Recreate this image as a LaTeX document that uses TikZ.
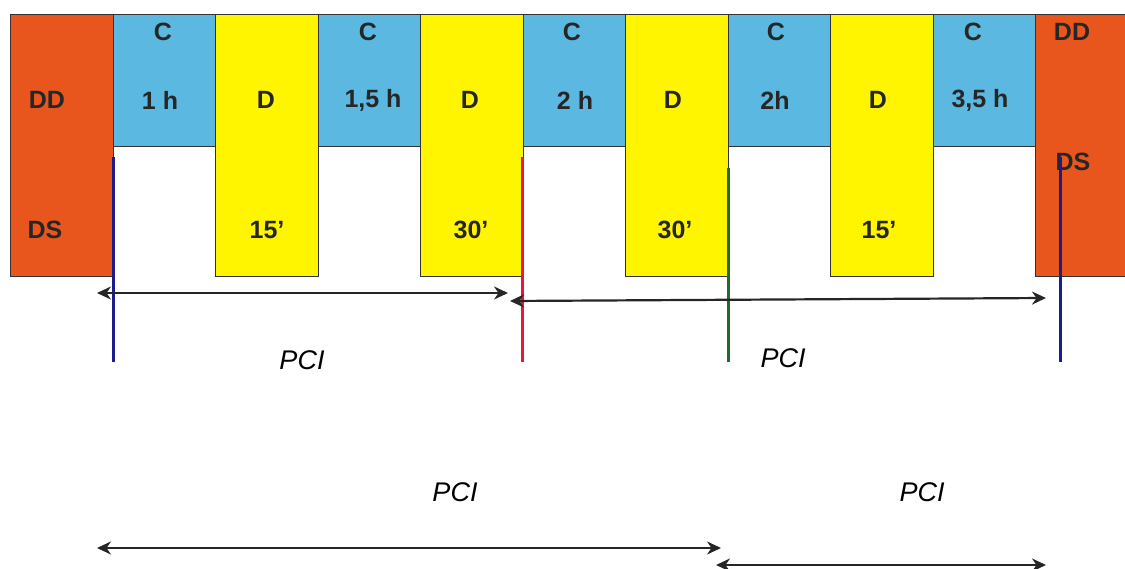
\documentclass[tikz,border=0pt]{standalone}
\usepackage{fontspec}
\setmainfont{Liberation Sans}
\usetikzlibrary{arrows.meta}
\definecolor{org}{HTML}{E8561E}
\definecolor{cyanb}{HTML}{5BB8E0}
\definecolor{yel}{HTML}{FFF500}
\definecolor{navyl}{HTML}{1C1C8A}
\definecolor{redl}{HTML}{E8173A}
\definecolor{greenl}{HTML}{1E6B2A}
\tikzset{
  boxbase/.style={draw=black!80, line width=1pt, anchor=north west, inner sep=0pt, minimum width=102.5pt},
  obox/.style={boxbase, fill=org, minimum height=262pt},
  cbox/.style={boxbase, fill=cyanb, minimum height=132pt},
  ybox/.style={boxbase, fill=yel, minimum height=262pt},
  lbl/.style={font=\fontsize{25}{28}\selectfont\bfseries, text=black!85, inner sep=0pt},
  pci/.style={font=\fontsize{27}{30}\selectfont\itshape, inner sep=0pt},
  marker/.style={line width=3pt},
  span/.style={line width=2.2pt, black!85, {Stealth[length=14pt,width=13pt]}-{Stealth[length=14pt,width=13pt]}}
}
\begin{document}
\begin{tikzpicture}[x=1pt,y=-1pt]
\useasboundingbox (0,0) rectangle (1125,569);
\begin{scope}
\clip (0,0) rectangle (1125,569);
\node[obox] (o1) at (10,14) {};
\node[cbox] (c1) at (112.5,14) {};
\node[ybox] (y1) at (215,14) {};
\node[cbox] (c2) at (317.5,14) {};
\node[ybox] (y2) at (420,14) {};
\node[cbox] (c3) at (522.5,14) {};
\node[ybox] (y3) at (625,14) {};
\node[cbox] (c4) at (727.5,14) {};
\node[ybox] (y4) at (830,14) {};
\node[cbox] (c5) at (932.5,14) {};
\node[obox, minimum width=110pt] (o2) at (1035,14) {};
\end{scope}
% labels
\node[lbl] (dd1) at (47,100) {DD};
\node[lbl] (ds1) at (45,230) {DS};
\node[lbl] (lc1) at (163,32) {C};
\node[lbl] (lt1) at (160,100) {1 h};
\node[lbl] (ld1) at (266,100) {D};
\node[lbl] (lm1) at (267,230) {15’};
\node[lbl] (lc2) at (368,32) {C};
\node[lbl] (lt2) at (373,100) {1,5 h};
\node[lbl] (ld2) at (470,100) {D};
\node[lbl] (lm2) at (471,230) {30’};
\node[lbl] (lc3) at (572,32) {C};
\node[lbl] (lt3) at (575,100) {2 h};
\node[lbl] (ld3) at (673,100) {D};
\node[lbl] (lm3) at (675,230) {30’};
\node[lbl] (lc4) at (776,32) {C};
\node[lbl] (lt4) at (775,100) {2h};
\node[lbl] (ld4) at (878,100) {D};
\node[lbl] (lm4) at (879,230) {15’};
\node[lbl] (lc5) at (973,32) {C};
\node[lbl] (lt5) at (980,100) {3,5 h};
\node[lbl] (dd2) at (1072,32) {DD};
\node[lbl] (ds2) at (1073,162) {DS};
% vertical markers
\coordinate (m1a) at (113,157); \coordinate (m1b) at (113,362);
\coordinate (m2a) at (522,157); \coordinate (m2b) at (522,362);
\coordinate (m3a) at (728,168); \coordinate (m3b) at (728,362);
\coordinate (m4a) at (1060,157); \coordinate (m4b) at (1060,362);
\draw[marker, navyl] (m1a) -- (m1b);
\draw[marker, redl] (m2a) -- (m2b);
\draw[marker, greenl] (m3a) -- (m3b);
\draw[marker, navyl] (m4a) -- (m4b);
% spans
\coordinate (a1l) at (97,293); \coordinate (a1r) at (508,293);
\coordinate (a2l) at (510,301); \coordinate (a2r) at (1046,298);
\coordinate (b1l) at (97,548); \coordinate (b1r) at (721,548);
\coordinate (b2l) at (716,565); \coordinate (b2r) at (1046,565);
\draw[span] (a1l) -- (a1r);
\draw[span] (a2l) -- (a2r);
\draw[span] (b1l) -- (b1r);
\draw[span] (b2l) -- (b2r);
% PCI labels
\node[pci] (p1) at (302,360) {PCI};
\node[pci] (p2) at (783,358) {PCI};
\node[pci] (p3) at (455,492) {PCI};
\node[pci] (p4) at (922,492) {PCI};
\end{tikzpicture}
\end{document}
